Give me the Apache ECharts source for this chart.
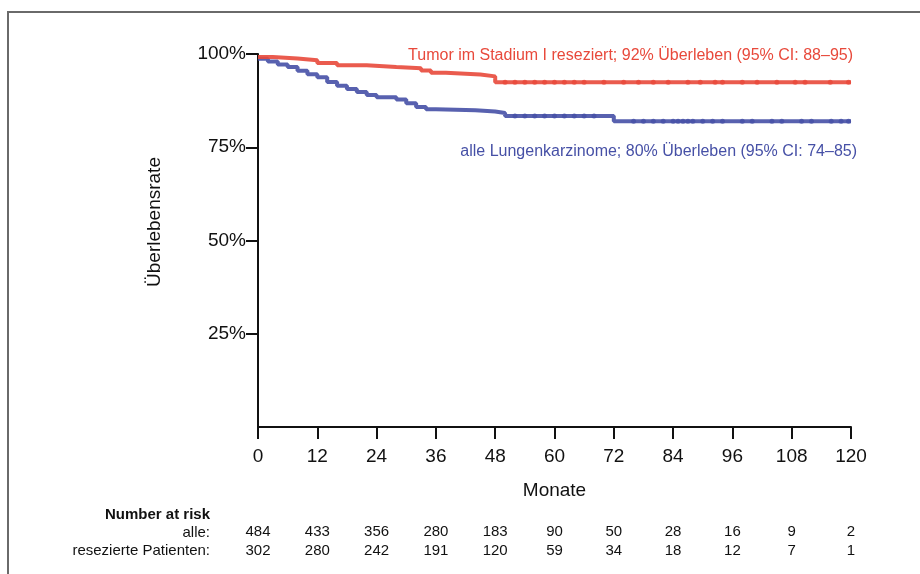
<!DOCTYPE html>
<html>
<head>
<meta charset="utf-8">
<script src="https://cdn.jsdelivr.net/npm/echarts@6/dist/echarts.min.js"></script>
<style>html,body{margin:0;padding:0;background:#fff}#c{width:920px;height:574px}</style>
</head>
<body>
<div id="c"></div>
<script>
// ---- data ----
const xTicks = [0, 12, 24, 36, 48, 60, 72, 84, 96, 108, 120];
const yTicks = [25, 50, 75, 100];

// Tumor im Stadium I reseziert (step curve: time in months, survival %)
const redTimes  = [0, 3, 8, 12, 16, 22, 28, 33, 35, 38, 45, 48, 120];
const redSurv   = [99.2, 98.8, 98.3, 97.6, 97.0, 96.5, 96.2, 95.6, 95.0, 94.5, 94.0, 92.4, 92.4];
const redCensor = [50, 52, 54, 56, 58, 60, 62, 64, 66, 70, 74, 77, 80, 83, 87, 89.5, 92.5, 94, 98, 101, 105, 108.7, 110.7, 115.8, 119.5];

// alle Lungenkarzinome
const blueTimes  = [0, 2, 4, 6, 8, 10, 12, 14, 16, 18, 20, 22, 24, 28, 30, 32, 34, 36, 44, 48, 50, 72, 120];
const blueSurv   = [98.7, 98.0, 97.2, 96.5, 95.5, 94.6, 93.8, 92.5, 91.5, 90.6, 89.8, 89.0, 88.4, 87.8, 86.8, 85.8, 85.2, 84.9, 84.6, 84.2, 83.4, 82.0, 82.0];
const blueCensor = [52, 54, 56, 58, 60, 62, 64, 66, 68, 76, 78, 80, 82, 84, 85, 86, 87, 88, 90, 92, 94, 98, 100, 104, 106, 110, 112, 116, 118, 119.5];

// Number at risk
const riskAlle = [484, 433, 356, 280, 183, 90, 50, 28, 16, 9, 2];
const riskResez = [302, 280, 242, 191, 120, 59, 34, 18, 12, 7, 1];

const redLabel = 'Tumor im Stadium I reseziert; 92% Überleben (95% CI: 88–95)';
const blueLabel = 'alle Lungenkarzinome; 80% Überleben (95% CI: 74–85)';

// ---- build ----
const FONT = '"Liberation Sans", Arial, Helvetica, sans-serif';
const RED = '#e8493b';
const BLUE = '#4650a6';

function pairs(t, s) { return t.map((v, i) => [v, s[i]]); }
function stepAt(t, s, x) {
  let v = s[0];
  for (let i = 0; i < t.length; i++) { if (t[i] <= x) v = s[i]; }
  return v;
}

const chart = echarts.init(document.getElementById('c'), null, { renderer: 'canvas' });

function riskAxis(values, offset) {
  return {
    type: 'value', gridIndex: 0, position: 'bottom', offset: offset,
    min: 0, max: 120, interval: 12,
    axisLine: { show: false }, axisTick: { show: false }, splitLine: { show: false },
    axisLabel: {
      margin: 9, fontSize: 15, color: '#111', fontFamily: FONT,
      formatter: function (v) { const i = xTicks.indexOf(v); return i >= 0 ? String(values[i]) : ''; }
    }
  };
}

chart.setOption({
  animation: false,
  backgroundColor: '#fff',
  grid: { left: 258, right: 69, top: 54, bottom: 147 },
  xAxis: [
    {
      type: 'value', min: 0, max: 120, interval: 12,
      name: 'Monate', nameLocation: 'middle', nameGap: 54,
      nameTextStyle: { fontSize: 19, color: '#111', fontFamily: FONT },
      axisLine: { show: true, lineStyle: { color: '#111', width: 2 } },
      axisTick: { show: true, length: 12, lineStyle: { color: '#111', width: 2 } },
      splitLine: { show: false },
      axisLabel: { margin: 20, fontSize: 19, color: '#111', fontFamily: FONT }
    },
    riskAxis(riskAlle, 88),
    riskAxis(riskResez, 107)
  ],
  yAxis: {
    type: 'value', min: 0, max: 100,
    axisLine: { show: true, lineStyle: { color: '#111', width: 2 } },
    axisTick: { show: true, length: 12, inside: false, customValues: yTicks, lineStyle: { color: '#111', width: 2 } },
    splitLine: { show: false },
    axisLabel: {
      margin: 12, fontSize: 19, color: '#111', fontFamily: FONT, customValues: yTicks,
      formatter: function (v) { return v + '%'; }
    }
  },
  series: [
    {
      type: 'line', step: 'end', data: pairs(blueTimes, blueSurv), symbol: 'none',
      lineStyle: { color: BLUE, width: 4, opacity: 0.9 }, z: 3
    },
    {
      type: 'line', step: 'end', data: pairs(redTimes, redSurv), symbol: 'none',
      lineStyle: { color: RED, width: 4, opacity: 0.9 }, z: 3
    },
    {
      type: 'scatter', symbol: 'circle', symbolSize: 5,
      data: blueCensor.map(t => [t, stepAt(blueTimes, blueSurv, t)]),
      itemStyle: { color: BLUE }, z: 4
    },
    {
      type: 'scatter', symbol: 'circle', symbolSize: 5,
      data: redCensor.map(t => [t, stepAt(redTimes, redSurv, t)]),
      itemStyle: { color: RED }, z: 4
    }
  ],
  graphic: [
    { type: 'rect', shape: { x: 8, y: 12, width: 1000, height: 700 }, style: { fill: 'none', stroke: '#6a6a6a', lineWidth: 2 }, silent: true },
    { type: 'rect', z: 100, shape: { x: 238, y: 424, width: 18.5, height: 6 }, style: { fill: '#fff' }, silent: true },
    { type: 'text', x: 155, y: 222, rotation: Math.PI / 2, style: { text: 'Überlebensrate', fill: '#111', font: '19px ' + FONT, textAlign: 'center', textVerticalAlign: 'middle' } },
    { type: 'text', x: 853, y: 56, style: { text: redLabel, fill: RED, font: '16px ' + FONT, textAlign: 'right', textVerticalAlign: 'middle' } },
    { type: 'text', x: 857, y: 152, style: { text: blueLabel, fill: BLUE, font: '16px ' + FONT, textAlign: 'right', textVerticalAlign: 'middle' } },
    { type: 'text', x: 210, y: 515, style: { text: 'Number at risk', fill: '#111', font: 'bold 15px ' + FONT, textAlign: 'right', textVerticalAlign: 'middle' } },
    { type: 'text', x: 210, y: 533, style: { text: 'alle:', fill: '#111', font: '15px ' + FONT, textAlign: 'right', textVerticalAlign: 'middle' } },
    { type: 'text', x: 210, y: 551, style: { text: 'resezierte Patienten:', fill: '#111', font: '15px ' + FONT, textAlign: 'right', textVerticalAlign: 'middle' } }
  ]
});
</script>
</body>
</html>
